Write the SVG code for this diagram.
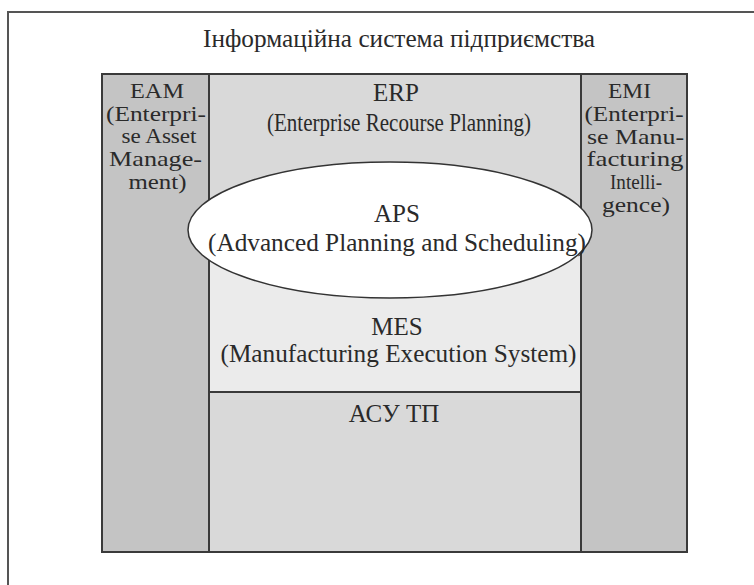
<svg xmlns="http://www.w3.org/2000/svg" width="754" height="585" viewBox="0 0 754 585">
<style>
text{font-family:"Liberation Serif","Times New Roman",serif;font-size:25px;fill:#2a2a2a;text-anchor:middle}
.col{font-size:22px}
.box{stroke:#3a3a3a;stroke-width:2}
.side{fill:#c4c4c4}
</style>
<rect x="0" y="0" width="754" height="585" fill="#ffffff"/>
<g id="frame">
<rect x="8" y="12" width="800" height="620" fill="#ffffff" stroke="#555555" stroke-width="2"/>
<text x="399" y="47" font-size="26" textLength="392" lengthAdjust="spacingAndGlyphs">Інформаційна система підприємства</text>
</g>
<g id="erp">
<rect x="209" y="74" width="372" height="156" fill="#d9d9d9"/>
<text x="396" y="101">ERP</text>
<text x="399" y="131" textLength="264" lengthAdjust="spacingAndGlyphs">(Enterprise Recourse Planning)</text>
</g>
<g id="mes">
<rect x="209" y="230" width="372" height="162" fill="#ebebeb"/>
<text x="397" y="335">MES</text>
<text x="398.5" y="362" textLength="356" lengthAdjust="spacingAndGlyphs">(Manufacturing Execution System)</text>
</g>
<g id="acsu">
<rect x="209" y="392" width="372" height="160" fill="#d9d9d9"/>
<text x="394" y="422">АСУ ТП</text>
</g>
<g id="eam">
<rect class="side" x="102" y="74" width="107" height="478"/>
<text class="col" x="157" y="98" textLength="54" lengthAdjust="spacingAndGlyphs">EAM</text>
<text class="col" x="156" y="121" textLength="100" lengthAdjust="spacingAndGlyphs">(Enterpri-</text>
<text class="col" x="159" y="143" textLength="75" lengthAdjust="spacingAndGlyphs">se Asset</text>
<text class="col" x="155.5" y="166" textLength="93" lengthAdjust="spacingAndGlyphs">Manage-</text>
<text class="col" x="157.5" y="189" textLength="58" lengthAdjust="spacingAndGlyphs">ment)</text>
</g>
<g id="emi">
<rect class="side" x="581" y="74" width="106" height="478"/>
<text class="col" x="629.5" y="98" textLength="43" lengthAdjust="spacingAndGlyphs">EMI</text>
<text class="col" x="634" y="121" textLength="99" lengthAdjust="spacingAndGlyphs">(Enterpri-</text>
<text class="col" x="635.5" y="144" textLength="97" lengthAdjust="spacingAndGlyphs">se Manu-</text>
<text class="col" x="635" y="166" textLength="97" lengthAdjust="spacingAndGlyphs">facturing</text>
<text class="col" x="636" y="189" textLength="52" lengthAdjust="spacingAndGlyphs">Intelli-</text>
<text class="col" x="636" y="212" textLength="68" lengthAdjust="spacingAndGlyphs">gence)</text>
</g>
<g id="connectors">
<rect class="box" x="102" y="74" width="585" height="478" fill="none"/>
<line class="box" x1="209" y1="74" x2="209" y2="552"/>
<line class="box" x1="581" y1="74" x2="581" y2="552"/>
<line class="box" x1="209" y1="392" x2="581" y2="392"/>
</g>
<g id="aps">
<ellipse cx="390" cy="230" rx="202" ry="68" fill="#ffffff" stroke="#333333" stroke-width="1.5"/>
<text x="397" y="222">APS</text>
<text x="397" y="251" textLength="378" lengthAdjust="spacingAndGlyphs">(Advanced Planning and Scheduling)</text>
</g>
</svg>
